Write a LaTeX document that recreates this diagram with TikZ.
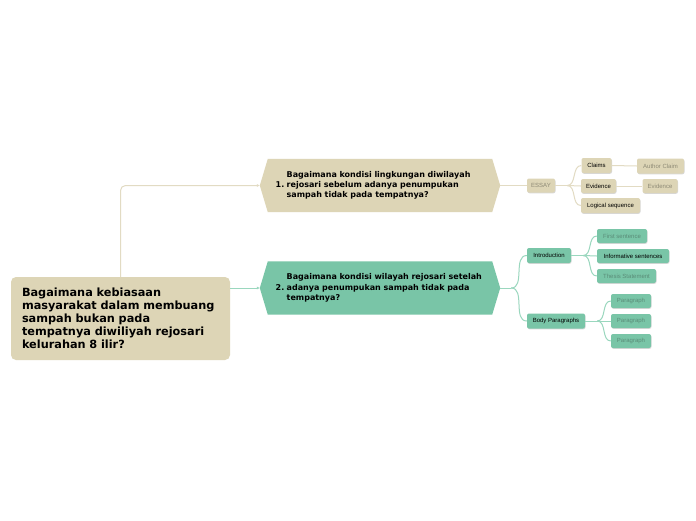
\documentclass[tikz,border=0pt]{standalone}
\usepackage{fontspec}
\setmainfont{DejaVu Sans}
\newfontfamily\leaffont{Liberation Sans}
\usetikzlibrary{backgrounds,shadows,arrows.meta}
\definecolor{beige}{HTML}{DDD5B6}
\definecolor{tealc}{HTML}{79C5A7}
\definecolor{bline}{HTML}{E2DBC3}
\definecolor{tline}{HTML}{9AD7BE}
\definecolor{bgray}{HTML}{8E8A76}
\definecolor{tgray}{HTML}{5A8C78}
\newcommand\hexfill[2]{\fill[#2] ([xshift=8pt]#1.north west) -- ([xshift=-8pt]#1.north east) -- (#1.east) -- ([xshift=-8pt]#1.south east) -- ([xshift=8pt]#1.south west) -- (#1.west) -- cycle;}
\begin{document}
\begin{tikzpicture}[x=1pt,y=-1pt,
  leaf/.style={rounded corners=2pt, inner sep=0pt, minimum height=14pt,
    font=\leaffont\fontsize{6}{6.5}\selectfont,
    drop shadow={shadow xshift=0.5pt,shadow yshift=-0.8pt,opacity=0.3}},
  bleaf/.style={leaf, fill=beige},
  tleaf/.style={leaf, fill=tealc},
  hexnode/.style={inner xsep=15.7pt, inner ysep=0pt, minimum width=240pt, minimum height=53pt,
    text width=208.6pt, align=left, font=\bfseries\fontsize{8}{10.3}\selectfont},
  bconn/.style={draw=bline, line width=1pt},
  tconn/.style={draw=tline, line width=1pt},
  tip/.style={-{Latex[length=3pt,width=3pt]}}
]
\useasboundingbox (0,0) rectangle (696,520);

% root
\node[fill=beige, rounded corners=5pt, minimum width=219pt, minimum height=83pt, inner xsep=11pt, inner ysep=0pt,
  text width=197pt, align=left, font=\bfseries\fontsize{11.3}{13}\selectfont] (root) at (120.5,318.5)
  {Bagaimana kebiasaan\\masyarakat dalam membuang\\sampah bukan pada\\tempatnya diwiliyah rejosari\\kelurahan 8 ilir?};

% hexagon nodes
\node[hexnode] (n1) at (380,185.5)
  {\makebox[11pt][l]{1.}\begin{tabular}[c]{@{}l@{}}Bagaimana kondisi lingkungan diwilayah\\rejosari sebelum adanya penumpukan\\sampah tidak pada tempatnya?\end{tabular}};
\node[hexnode] (n2) at (380,288)
  {\makebox[11pt][l]{2.}\begin{tabular}[c]{@{}l@{}}Bagaimana kondisi wilayah rejosari setelah\\adanya penumpukan sampah tidak pada\\tempatnya?\end{tabular}};
\begin{scope}[on background layer]
  \fill[white] (0,0) rectangle (696,520);
  \hexfill{n1}{beige}
  \hexfill{n2}{tealc}
\end{scope}

% essay branch
\node[bleaf, minimum width=28pt, text=bgray] (essay) at (541,185.5) {ESSAY};
\node[bleaf, minimum width=30pt, minimum height=15pt] (claims) at (596.5,165.5) {Claims};
\node[bleaf, minimum width=47pt, minimum height=15pt, text=bgray] (author) at (660.5,166) {Author Claim};
\node[bleaf, minimum width=35pt] (evid) at (598.5,186) {Evidence};
\node[bleaf, minimum width=35pt, text=bgray] (evid2) at (660,186) {Evidence};
\node[bleaf, minimum width=59pt, minimum height=15pt] (logic) at (610.5,205.5) {Logical sequence};

% teal branch
\node[tleaf, minimum width=44pt, minimum height=15pt] (intro) at (549,255.5) {Introduction};
\node[tleaf, minimum width=50pt, text=tgray] (first) at (622,236) {First sentence};
\node[tleaf, minimum width=72pt] (inform) at (633,256) {Informative sentences};
\node[tleaf, minimum width=59pt, text=tgray] (thesis) at (626.5,276) {Thesis Statement};
\node[tleaf, minimum width=58pt, minimum height=15pt] (body) at (556,321) {Body Paragraphs};
\node[tleaf, minimum width=40pt, text=tgray] (p1) at (631,301) {Paragraph};
\node[tleaf, minimum width=40pt, text=tgray] (p2) at (631,321) {Paragraph};
\node[tleaf, minimum width=40pt, text=tgray] (p3) at (631,341) {Paragraph};

% connectors
\draw[bconn, tip, rounded corners=5pt] (root.north) |- (n1.west);
\draw[tconn, tip] (root.east |- n2.west) -- (n2.west);

\draw[bconn] (n1.east) -- (essay.west);
\draw[bconn] (essay.east) -- ++(12,0) coordinate (eb);
\draw[bconn] (eb) to[out=0,in=180] (claims.west);
\draw[bconn] (eb) -- (evid.west);
\draw[bconn] (eb) to[out=0,in=180] (logic.west);
\draw[bconn] (claims.east) -- (author.west);
\draw[bconn] (evid.east) -- (evid2.west);

\draw[tconn] (n2.east) -- ++(11,0) coordinate (tb);
\draw[tconn] (tb) to[out=0,in=180] (intro.west);
\draw[tconn] (tb) to[out=0,in=180] (body.west);
\draw[tconn] (intro.east) -- ++(12,0) coordinate (ib);
\draw[tconn] (ib) to[out=0,in=180] (first.west);
\draw[tconn] (ib) -- (inform.west);
\draw[tconn] (ib) to[out=0,in=180] (thesis.west);
\draw[tconn] (body.east) -- ++(12,0) coordinate (bb);
\draw[tconn] (bb) to[out=0,in=180] (p1.west);
\draw[tconn] (bb) -- (p2.west);
\draw[tconn] (bb) to[out=0,in=180] (p3.west);
\end{tikzpicture}
\end{document}
